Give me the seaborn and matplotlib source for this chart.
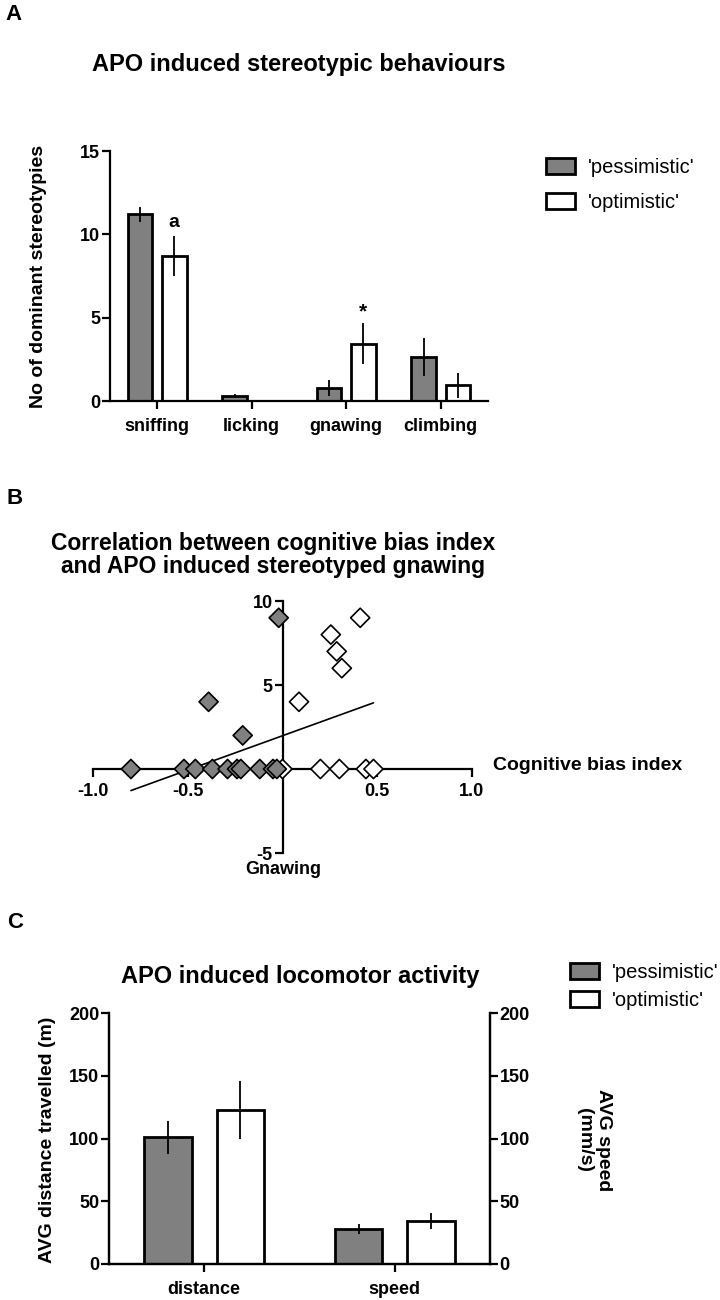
import numpy as np
import pandas as pd
import seaborn as sns
import matplotlib.pyplot as plt
from matplotlib.patches import Patch

GREY = '#808080'
groups = ["'pessimistic'", "'optimistic'"]

# panel A: APO induced stereotypic behaviours (mean, SEM)
behaviours = ['sniffing', 'licking', 'gnawing', 'climbing']
stereo_pess = [11.2, 0.3, 0.8, 2.65]
stereo_pess_sem = [0.45, 0.12, 0.48, 1.12]
stereo_opt = [8.7, 0.0, 3.45, 0.95]
stereo_opt_sem = [1.2, 0.0, 1.25, 0.75]

# panel B: cognitive bias index vs gnawing
pess_bias = [-0.80, -0.52, -0.46, -0.37, -0.29, -0.24, -0.22, -0.12, -0.05, -0.03, -0.02, -0.39, -0.21]
pess_gnaw = [0, 0, 0, 0, 0, 0, 0, 0, 0, 0, 9, 4, 2]
opt_bias = [0.0, 0.20, 0.30, 0.44, 0.48, 0.41, 0.255, 0.286, 0.313, 0.087]
opt_gnaw = [0, 0, 0, 0, 0, 9, 8, 7, 6, 4]
fit_slope = 4.08
fit_intercept = 1.98

# panel C: APO induced locomotor activity (mean, SEM)
loco_measures = ['distance', 'speed']
loco_pess = [101, 28]
loco_pess_sem = [13, 3.7]
loco_opt = [123, 34]
loco_opt_sem = [23, 6.5]

sns.set_theme(style='ticks')
plt.rcParams['font.family'] = ['Liberation Sans', 'DejaVu Sans']
plt.rcParams['font.weight'] = 'bold'
plt.rcParams['text.color'] = 'black'
plt.rcParams['axes.labelcolor'] = 'black'
plt.rcParams['axes.edgecolor'] = 'black'
plt.rcParams['xtick.color'] = 'black'
plt.rcParams['ytick.color'] = 'black'
plt.rcParams['axes.linewidth'] = 1.6
plt.rcParams['xtick.major.width'] = 1.6
plt.rcParams['ytick.major.width'] = 1.6
plt.rcParams['xtick.labelsize'] = 13
plt.rcParams['ytick.labelsize'] = 13

fig = plt.figure(figsize=(7.2, 13), dpi=100)


def fx(px):
    return px / 720


def fy(px):
    return 1 - px / 1300


def bar_panel(ax, cats, pess, pess_sem, opt, opt_sem, width, gap):
    df = pd.DataFrame({'cat': cats * 2,
                       'group': [groups[0]] * len(cats) + [groups[1]] * len(cats),
                       'value': pess + opt})
    sns.barplot(data=df, x='cat', y='value', hue='group', hue_order=groups, order=cats,
                palette=[GREY, 'white'], saturation=1, edgecolor='black', linewidth=2.0,
                width=width, gap=gap, errorbar=None, legend=False, ax=ax)
    for cont, mean, sem in zip(ax.containers, [pess, opt], [pess_sem, opt_sem]):
        xs = [b.get_x() + b.get_width() / 2 for b in cont]
        ax.errorbar(xs, mean, yerr=sem, fmt='none', ecolor='black', elinewidth=1.3, capsize=0, zorder=3)
    ax.set_xlabel('')
    ax.set_ylabel('')
    ax.tick_params(axis='x', length=6, pad=6)
    ax.tick_params(axis='y', length=6, pad=1)


def legend_at(x, y, spacing):
    handles = [Patch(facecolor=GREY, edgecolor='black', linewidth=2.0),
               Patch(facecolor='white', edgecolor='black', linewidth=2.0)]
    fig.legend(handles=handles, labels=groups, loc='upper left', bbox_to_anchor=(fx(x), fy(y)),
               frameon=False, prop={'size': 14.5, 'weight': 'normal'}, handlelength=1.45,
               handleheight=0.8, handletextpad=0.65, labelspacing=spacing, borderpad=0,
               borderaxespad=0)


# ---------------- panel A ----------------
axa = fig.add_axes([fx(110), fy(401), fx(378), 250 / 1300])
bar_panel(axa, behaviours, stereo_pess, stereo_pess_sem, stereo_opt, stereo_opt_sem, 0.72, 0.28)
axa.set_xlim(-0.5, 3.5)
axa.set_ylim(0, 15)
axa.set_yticks([0, 5, 10, 15])
sns.despine(ax=axa)
opt_bars = axa.containers[1]
axa.text(opt_bars[0].get_x() + opt_bars[0].get_width() / 2, 10.7, 'a', ha='center', va='center', fontsize=14)
axa.text(opt_bars[2].get_x() + opt_bars[2].get_width() / 2, 4.75, '*', ha='center', va='bottom', fontsize=15)
fig.text(fx(299), fy(65), 'APO induced stereotypic behaviours', ha='center', va='center', fontsize=17)
fig.text(fx(39), fy(276), 'No of dominant stereotypies', rotation=90, ha='center', va='center', fontsize=14)
fig.text(fx(5), fy(15), 'A', ha='left', va='center', fontsize=16)
legend_at(546, 158, 0.8)

# ---------------- panel B ----------------
axb = fig.add_axes([fx(93), fy(853), fx(379), 252 / 1300])
dfb = pd.DataFrame({'bias': opt_bias + pess_bias,
                    'gnawing': opt_gnaw + pess_gnaw,
                    'group': [groups[1]] * len(opt_bias) + [groups[0]] * len(pess_bias)})
sns.scatterplot(data=dfb, x='bias', y='gnawing', hue='group', palette={groups[0]: GREY, groups[1]: 'white'},
                marker='D', s=95, edgecolor='black', linewidth=1.2, legend=False, zorder=4,
                clip_on=False, ax=axb)
xfit = np.array([dfb['bias'].min(), dfb['bias'].max()])
sns.lineplot(x=xfit, y=fit_slope * xfit + fit_intercept, color='black', linewidth=1.2, ax=axb)
axb.set_xlim(-1, 1)
axb.set_ylim(-5, 10)
axb.spines['left'].set_position(('data', 0))
axb.spines['bottom'].set_position(('data', 0))
axb.spines['top'].set_visible(False)
axb.spines['right'].set_visible(False)
axb.set_xticks([-1, -0.5, 0.5, 1])
axb.set_xticklabels(['-1.0', '-0.5', '0.5', '1.0'])
axb.set_yticks([-5, 5, 10])
axb.set_yticklabels(['-5', '5', '10'])
axb.tick_params(axis='x', length=6, pad=4)
axb.tick_params(axis='y', length=6, pad=1)
axb.set_xlabel('')
axb.set_ylabel('')
fig.text(fx(493), fy(766), 'Cognitive bias index', ha='left', va='center', fontsize=14)
fig.text(fx(283), fy(870), 'Gnawing', ha='center', va='center', fontsize=13)
fig.text(fx(273), fy(555), 'Correlation between cognitive bias index\nand APO induced stereotyped gnawing',
         ha='center', va='center', fontsize=16.5, linespacing=1.0)
fig.text(fx(7), fy(499), 'B', ha='left', va='center', fontsize=16)

# ---------------- panel C ----------------
axc = fig.add_axes([fx(109), fy(1264), fx(381), 251 / 1300])
bar_panel(axc, loco_measures, loco_pess, loco_pess_sem, loco_opt, loco_opt_sem, 0.76, 0.34)
axc.set_xlim(-0.5, 1.5)
axc.set_ylim(0, 200)
axc.set_yticks([0, 50, 100, 150, 200])
axc.spines['top'].set_visible(False)
twin = axc.twinx()
twin.set_ylim(0, 200)
twin.set_yticks([0, 50, 100, 150, 200])
twin.tick_params(axis='y', length=6, pad=1)
twin.spines['top'].set_visible(False)
twin.grid(False)
fig.text(fx(300), fy(977), 'APO induced locomotor activity', ha='center', va='center', fontsize=17)
fig.text(fx(48), fy(1140), 'AVG distance travelled (m)', rotation=90, ha='center', va='center', fontsize=14)
fig.text(fx(594), fy(1140), 'AVG speed\n(mm/s)', rotation=270, ha='center', va='center', fontsize=14)
fig.text(fx(7), fy(923), 'C', ha='left', va='center', fontsize=16)
legend_at(570, 963, 0.45)

fig.savefig('out.png', dpi=100)
